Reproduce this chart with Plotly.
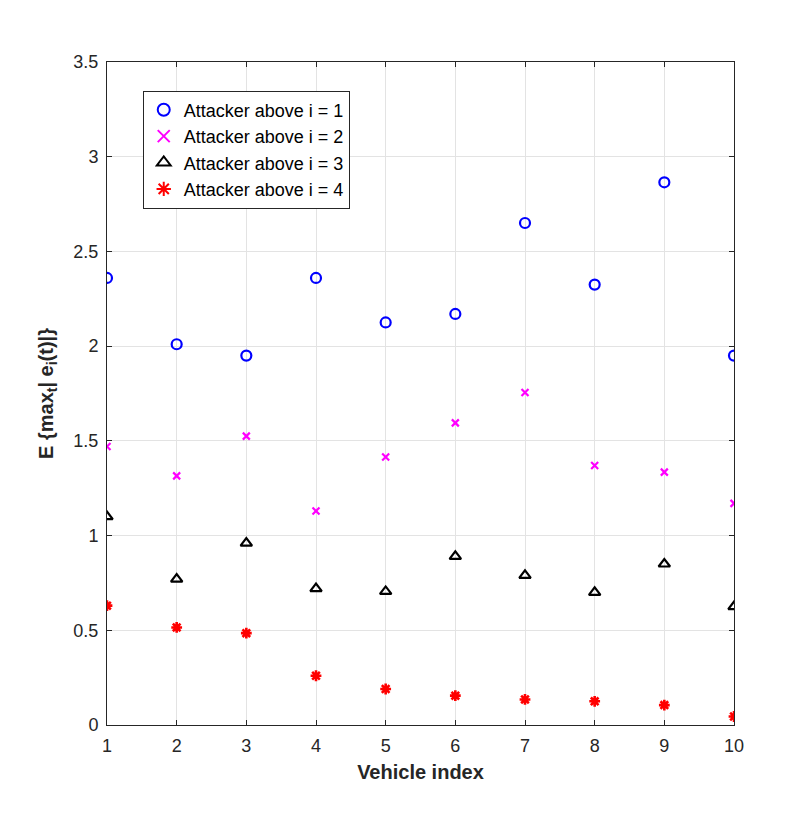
import plotly.graph_objects as go

vehicle = list(range(1, 11))

above_1 = [2.36, 2.01, 1.95, 2.36, 2.125, 2.17, 2.65, 2.325, 2.865, 1.95]
above_2 = [1.47, 1.315, 1.525, 1.13, 1.415, 1.595, 1.755, 1.37, 1.335, 1.17]
above_3 = [1.10, 0.77, 0.96, 0.72, 0.705, 0.89, 0.79, 0.70, 0.85, 0.625]
above_4 = [0.63, 0.515, 0.485, 0.26, 0.19, 0.155, 0.135, 0.125, 0.105, 0.045]

series = [
    ("Attacker above i = 1", above_1, "circle-open", "#0000ff", 10, 2.2),
    ("Attacker above i = 2", above_2, "x-thin-open", "#ff00ff", 7, 2.2),
    ("Attacker above i = 3", above_3, "triangle-up-open", "#000000", 10, 2.2),
    ("Attacker above i = 4", above_4, "asterisk-open", "#ff0000", 9, 2.6),
]

fig = go.Figure()
for name, vals, sym, col, size, lw in series:
    fig.add_trace(go.Scatter(
        x=vehicle, y=vals, mode="markers", name=name,
        marker=dict(symbol=sym, size=size, color=col, line=dict(color=col, width=lw)),
    ))

font_family = "Liberation Sans, Arial"

axis_common = dict(
    showline=True, linecolor="#262626", linewidth=1, mirror="ticks",
    ticks="inside", ticklen=5, tickcolor="#262626",
    showgrid=True, gridcolor="#e3e3e3", gridwidth=1,
    zeroline=False,
    tickfont=dict(family=font_family, size=18, color="#262626"),
)

fig.update_xaxes(
    range=[1, 10], tickvals=vehicle, ticklabelstandoff=4,
    title=dict(text="<b>Vehicle index</b>", font=dict(family=font_family, size=20, color="#262626"), standoff=10),
    **axis_common,
)
fig.update_yaxes(
    range=[0, 3.5], dtick=0.5, tickformat="~g", ticklabelstandoff=4,
    title=dict(text="<b>E {max<sub>t</sub>| e<sub>i</sub>(t)|}</b>", font=dict(family=font_family, size=20, color="#262626"), standoff=14),
    **axis_common,
)

fig.update_layout(
    width=811, height=813,
    margin=dict(l=99, r=85, t=54, b=96),
    plot_bgcolor="white", paper_bgcolor="white",
    legend=dict(
        x=0.057, y=0.957, xanchor="left", yanchor="top",
        bgcolor="white", bordercolor="#262626", borderwidth=1,
        font=dict(family=font_family, size=18, color="#000000"),
        tracegroupgap=0, itemsizing="constant",
    ),
    showlegend=True,
)

fig.write_html("out.html")
